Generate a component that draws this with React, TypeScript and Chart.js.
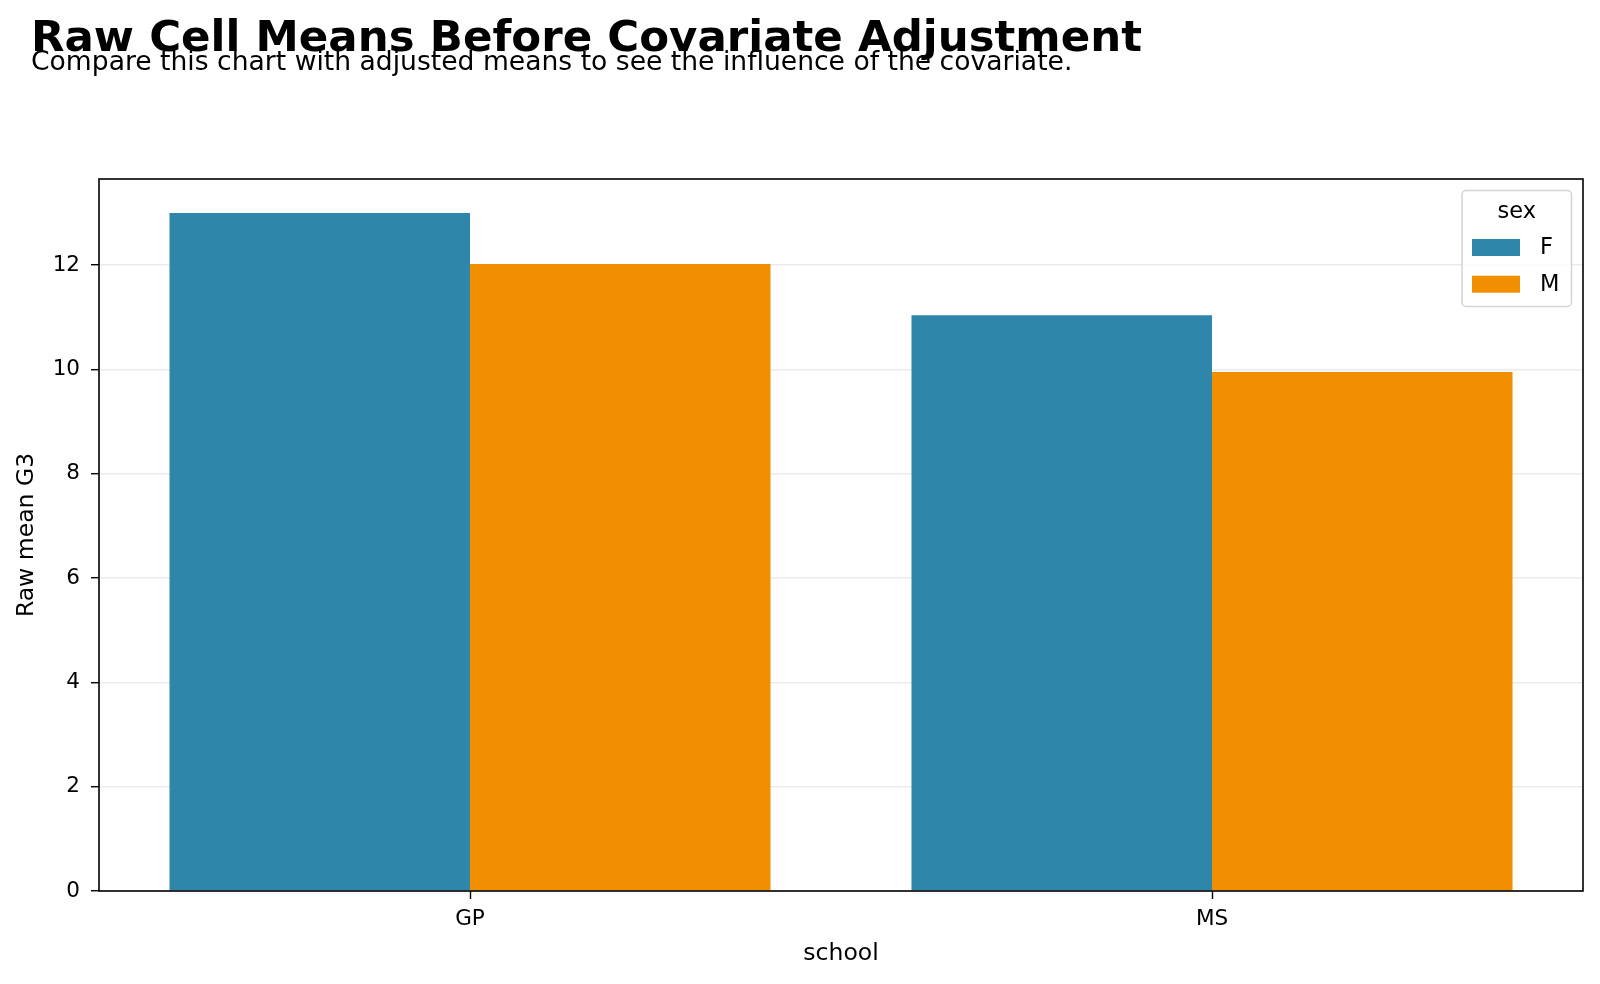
import React, { useEffect, useRef } from "react";
import { Chart, registerables } from "chart.js";

Chart.register(...registerables);

const schools = ["GP", "MS"];
const sexLabels = ["F", "M"];
const femaleMeans = [13.0, 11.04];
const maleMeans = [12.02, 9.95];
const yTickValues = [0, 2, 4, 6, 8, 10, 12];
const yMax = 13.65;
const seriesColors = ["#2E86AB", "#F18F01"];

const titleText = "Raw Cell Means Before Covariate Adjustment";
const subtitleText = "Compare this chart with adjusted means to see the influence of the covariate.";
const legendTitle = "sex";
const xTitle = "school";
const yTitle = "Raw mean G3";

const FONT = "'DejaVu Sans', 'Liberation Sans', sans-serif";

const decorPlugin = {
  id: "decor",
  afterDraw(chart: any) {
    const ctx = chart.ctx as CanvasRenderingContext2D;
    const a = chart.chartArea;
    ctx.save();
    // frame (spines)
    ctx.strokeStyle = "#000";
    ctx.lineWidth = 1.6;
    ctx.strokeRect(a.left, a.top, a.right - a.left, a.bottom - a.top);

    // title + subtitle
    ctx.fillStyle = "#000";
    ctx.textAlign = "left";
    ctx.textBaseline = "alphabetic";
    ctx.font = `bold 43.5px ${FONT}`;
    ctx.fillText(titleText, 31, 51);
    ctx.font = `26.6px ${FONT}`;
    ctx.fillText(subtitleText, 31, 69.5);

    // legend
    const bx = a.right - 121;
    const by = a.top + 11.5;
    const bw = 109.5;
    const bh = 116;
    ctx.beginPath();
    (ctx as any).roundRect(bx, by, bw, bh, 4);
    ctx.fillStyle = "rgba(255,255,255,0.85)";
    ctx.fill();
    ctx.strokeStyle = "#d4d4d4";
    ctx.lineWidth = 1.5;
    ctx.stroke();

    ctx.fillStyle = "#000";
    ctx.font = `22.5px ${FONT}`;
    ctx.textAlign = "center";
    ctx.textBaseline = "middle";
    ctx.fillText(legendTitle, bx + bw / 2, by + 22);

    chart.data.datasets.forEach((ds: any, i: number) => {
      const ry = by + 48.5 + i * 36.7;
      ctx.fillStyle = ds.backgroundColor;
      ctx.fillRect(bx + 10, ry, 48, 17);
      ctx.fillStyle = "#000";
      ctx.textAlign = "left";
      ctx.fillText(ds.label, bx + 78, ry + 9);
    });
    ctx.restore();
  },
};

export default function App() {
  const ref = useRef<HTMLCanvasElement | null>(null);

  useEffect(() => {
    document.body.style.margin = "0";
    const canvas = ref.current!;
    const chart = new Chart(canvas, {
      type: "bar",
      data: {
        labels: schools,
        datasets: [
          {
            label: sexLabels[0],
            data: femaleMeans,
            backgroundColor: seriesColors[0],
            borderWidth: 0,
            categoryPercentage: 0.81,
            barPercentage: 1.0,
          },
          {
            label: sexLabels[1],
            data: maleMeans,
            backgroundColor: seriesColors[1],
            borderWidth: 0,
            categoryPercentage: 0.81,
            barPercentage: 1.0,
          },
        ],
      },
      options: {
        responsive: false,
        animation: false,
        devicePixelRatio: 1,
        layout: { padding: { top: 179, right: 17, left: 0, bottom: 0 } },
        plugins: {
          legend: { display: false },
          title: { display: false },
          tooltip: { enabled: false },
        },
        scales: {
          x: {
            type: "category",
            offset: true,
            border: { display: false },
            grid: {
              offset: false,
              drawOnChartArea: false,
              drawTicks: true,
              tickLength: 8,
              tickColor: "#000",
              tickWidth: 1.4,
            },
            ticks: {
              color: "#000",
              font: { family: FONT, size: 21.5 },
              padding: 8,
              maxRotation: 0,
            },
            title: {
              display: true,
              text: xTitle,
              color: "#000",
              font: { family: FONT, size: 23.5 },
              padding: { top: 16, bottom: 16 },
            },
            afterFit: (scale: any) => {
              scale.height = 93;
            },
          },
          y: {
            type: "linear",
            min: 0,
            max: yMax,
            z: 1,
            border: { display: false },
            grid: {
              color: "rgba(190,190,190,0.3)",
              lineWidth: 1.4,
              drawTicks: true,
              tickLength: 8,
              tickColor: "#000",
              tickWidth: 1.4,
            },
            ticks: {
              color: "#000",
              font: { family: FONT, size: 21.5 },
              padding: 11,
            },
            afterBuildTicks: (scale: any) => {
              scale.ticks = yTickValues.map((v) => ({ value: v }));
            },
            title: {
              display: true,
              text: yTitle,
              color: "#000",
              font: { family: FONT, size: 23.5 },
              padding: { top: 13, bottom: 13 },
            },
            afterFit: (scale: any) => {
              scale.width = 99;
            },
          },
        },
      },
      plugins: [decorPlugin],
    });
    return () => chart.destroy();
  }, []);

  return (
    <div style={{ width: 1600, height: 984, background: "#fff" }}>
      <canvas ref={ref} width={1600} height={984} style={{ display: "block" }} />
    </div>
  );
}
